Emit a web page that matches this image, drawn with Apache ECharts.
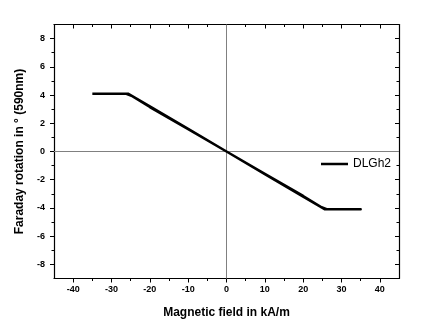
<!DOCTYPE html>
<html><head><meta charset="utf-8">
<script src="https://cdn.jsdelivr.net/npm/echarts@6/dist/echarts.min.js"></script>
<style>html,body{margin:0;padding:0;background:#fff}#c{width:440px;height:331px}</style>
</head><body><div id="c"></div>
<script>
// Data (hysteresis sweep: forward then return branch)
const fieldForward = [-35, -30, -25.7, -20, -10, 0, 10, 20, 25.7, 30, 35];
const rotationForward = [4.1, 4.1, 4.1, 3.2, 1.6, 0, -1.6, -3.2, -4.1, -4.1, -4.1];
const fieldReturn = [35, 30, 26.3, 24.8, 20, 10, 0, -10, -20, -24.8, -26.3, -30, -35];
const rotationReturn = [-4.1, -4.1, -4.1, -3.95, -3.15, -1.58, 0, 1.58, 3.15, 3.95, 4.1, 4.1, 4.1];
const seriesName = 'DLGh2';
const xMajorTicks = [-40, -30, -20, -10, 0, 10, 20, 30, 40];
const xMinorTicks = [-35, -25, -15, -5, 5, 15, 25, 35];
const yMajorTicks = [-8, -6, -4, -2, 0, 2, 4, 6, 8];
const yMinorTicks = [-7, -5, -3, -1, 1, 3, 5, 7];
const xRange = [-45, 45];
const yRange = [-9, 9];
const xTitle = 'Magnetic field in kA/m';
const yTitle = 'Faraday rotation in \u00b0 (590nm)';

const FONT = "'Liberation Sans', Arial, sans-serif";
const points = [];
fieldForward.forEach((x, i) => points.push([x, rotationForward[i]]));
fieldReturn.forEach((x, i) => points.push([x, rotationReturn[i]]));

function xAx(pos, ticks, len, inside, labels, line) {
  return {
    type: 'value', position: pos, min: xRange[0], max: xRange[1], interval: 5,
    axisLine: {show: line, onZero: false, lineStyle: {color: '#000', width: 1.2}},
    axisTick: {show: true, customValues: ticks, length: len, inside: inside, lineStyle: {color: '#000', width: 1}},
    axisLabel: labels ? {show: true, customValues: xMajorTicks, margin: 7, fontSize: 9, fontWeight: 'bold', color: '#000', fontFamily: FONT} : {show: false},
    splitLine: {show: false},
    name: labels ? xTitle : '', nameLocation: 'middle', nameGap: 28,
    nameTextStyle: {fontSize: 12, fontWeight: 'bold', color: '#000', fontFamily: FONT}
  };
}
function yAx(pos, ticks, len, inside, labels, line) {
  return {
    type: 'value', position: pos, min: yRange[0], max: yRange[1], interval: 1,
    axisLine: {show: line, onZero: false, lineStyle: {color: '#000', width: 1.2}},
    axisTick: {show: true, customValues: ticks, length: len, inside: inside, lineStyle: {color: '#000', width: 1}},
    axisLabel: labels ? {show: true, customValues: yMajorTicks, margin: 9, fontSize: 9, fontWeight: 'bold', color: '#000', fontFamily: FONT} : {show: false},
    splitLine: {show: false},
    name: labels ? yTitle : '', nameLocation: 'middle', nameGap: 22, nameRotate: 90,
    nameTextStyle: {fontSize: 12, fontWeight: 'bold', color: '#000', fontFamily: FONT}
  };
}

const chart = echarts.init(document.getElementById('c'), null, {renderer: 'canvas'});
chart.setOption({
  animation: false,
  backgroundColor: '#fff',
  grid: {left: 54, right: 41, top: 24.5, bottom: 52.5, containLabel: false},
  legend: {
    data: [seriesName], left: 321, top: 158, padding: 0, itemWidth: 27, itemHeight: 2.5, icon: 'rect',
    textStyle: {fontSize: 12, color: '#000', fontFamily: FONT},
    itemStyle: {color: '#000'}
  },
  xAxis: [
    xAx('bottom', xMajorTicks, 4, false, true, true),
    xAx('bottom', xMinorTicks, 2.5, false, false, false),
    xAx('top', xMajorTicks, 4, true, false, true),
    xAx('top', xMinorTicks, 2.5, true, false, false)
  ],
  yAxis: [
    yAx('left', yMajorTicks, 4, false, true, true),
    yAx('left', yMinorTicks, 2.5, false, false, false),
    yAx('right', yMajorTicks, 4, true, false, true),
    yAx('right', yMinorTicks, 2.5, true, false, false)
  ],
  series: [
    {
      name: 'zero', type: 'line', data: [], xAxisIndex: 0, yAxisIndex: 0, z: 1,
      markLine: {
        silent: true, symbol: 'none', label: {show: false},
        lineStyle: {color: '#808080', width: 1, type: 'solid'},
        data: [{xAxis: 0}, {yAxis: 0}]
      }
    },
    {
      name: seriesName, type: 'line', data: points, xAxisIndex: 0, yAxisIndex: 0, z: 5,
      showSymbol: false, symbol: 'none',
      lineStyle: {color: '#000', width: 2.5, join: 'round'},
      itemStyle: {color: '#000'}
    }
  ]
});
</script></body></html>
